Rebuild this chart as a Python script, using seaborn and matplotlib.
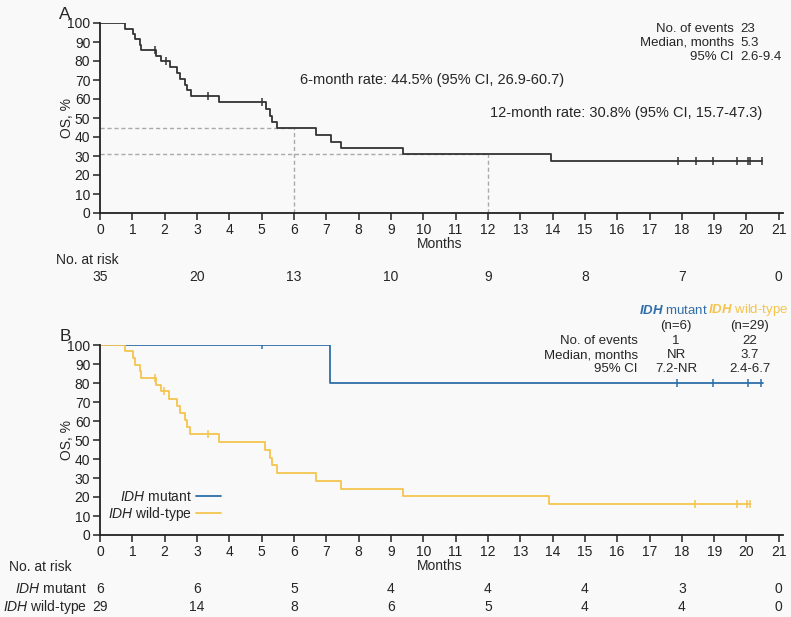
import numpy as np
import pandas as pd
import seaborn as sns
import matplotlib.pyplot as plt
import matplotlib.transforms as mtransforms

sns.set_style('ticks')
plt.rcParams['font.family'] = ['Liberation Sans', 'DejaVu Sans']
plt.rcParams['mathtext.fontset'] = 'custom'
plt.rcParams['mathtext.rm'] = 'Liberation Sans'
plt.rcParams['mathtext.it'] = 'Liberation Sans:italic'
plt.rcParams['mathtext.bf'] = 'Liberation Sans:bold'
plt.rcParams['mathtext.bfit'] = 'Liberation Sans:italic:bold'

# panel A - all patients
months_all = [0, 0.77, 1.03, 1.08, 1.24, 1.27, 1.72, 1.90, 2.17, 2.39, 2.47, 2.63, 2.70, 2.81,
              3.69, 5.13, 5.25, 5.31, 5.48, 6.68, 7.16, 7.47, 9.38, 13.94]
os_all = [100, 97.1, 94.3, 91.4, 88.6, 85.7, 82.8, 79.8, 76.8, 73.7, 70.7, 67.6, 64.5, 61.5,
          58.2, 54.6, 51.3, 47.9, 44.5, 41.0, 37.6, 34.2, 30.8, 27.4]
censor_all = [1.70, 2.04, 3.35, 5.0, 17.89, 18.43, 18.97, 19.71, 20.05, 20.10, 20.49]
end_all = 20.49
rate6, rate12 = 44.5, 30.8

# panel B - IDH mutant
months_mut = [0, 7.13]
os_mut = [100, 80]
censor_mut = [5.0, 17.85, 18.95, 20.05, 20.45]
end_mut = 20.5

# panel B - IDH wild-type
months_wt = [0, 0.77, 1.03, 1.08, 1.24, 1.27, 1.72, 1.90, 2.14, 2.39, 2.47, 2.63, 2.70, 2.78,
             3.69, 5.10, 5.26, 5.31, 5.48, 6.68, 7.47, 9.36, 13.9]
os_wt = [100, 96.6, 93.1, 89.7, 86.2, 82.8, 79.2, 75.6, 71.8, 68.0, 64.2, 60.5, 56.7, 52.9,
         48.8, 44.8, 40.7, 36.6, 32.6, 28.5, 24.4, 20.3, 16.3]
censor_wt = [1.70, 1.97, 3.35, 18.4, 19.7, 20.02, 20.1]
end_wt = 20.12

risk_months = [0, 3, 6, 9, 12, 15, 18, 21]
risk_all = [35, 20, 13, 10, 9, 8, 7, 0]
risk_mut = [6, 6, 5, 4, 4, 4, 3, 0]
risk_wt = [29, 14, 8, 6, 5, 4, 4, 0]

bg = '#f9f9f9'
black = '#333333'
blue = '#2f6ea8'
yellow = '#f4c44e'
fs = 10


def km(ax, t, s, cens, end, color, label=None):
    df = pd.DataFrame({'Months': list(t) + [end], 'OS': list(s) + [s[-1]]})
    sns.lineplot(data=df, x='Months', y='OS', drawstyle='steps-post', color=color,
                 lw=1.3, estimator=None, ax=ax, label=label)
    idx = np.searchsorted(t, cens, side='right') - 1
    ax.plot(cens, np.array(s)[idx], ls='none', marker='|', ms=6, mew=1.1, color=color)


def style(ax):
    ax.set_facecolor(bg)
    ax.set_xlim(0, 21.13)
    ax.set_ylim(0, 100)
    ax.set_xticks(range(0, 22))
    ax.set_yticks(range(0, 101, 10))
    ax.tick_params(direction='out', length=5, width=1.1, labelsize=fs, pad=2, colors='#222222')
    for sp in ['top', 'right']:
        ax.spines[sp].set_visible(False)
    for sp in ['left', 'bottom']:
        ax.spines[sp].set_linewidth(1.3)
        ax.spines[sp].set_color('#222222')
    ax.set_xlabel('')
    ax.set_ylabel('OS, %', fontsize=fs)
    ax.yaxis.set_label_coords(-0.038, 0.5)


fig = plt.figure(figsize=(7.91, 6.17), dpi=100)
fig.patch.set_facecolor(bg)
axA = fig.add_axes([100 / 791, 1 - 213 / 617, 683 / 791, 190 / 617])
axB = fig.add_axes([100 / 791, 1 - 535 / 617, 683 / 791, 190 / 617])

# ---- panel A ----
axA.plot([0, 6], [rate6, rate6], color='#aaaaaa', lw=1, ls=(0, (3, 2)))
axA.plot([6, 6], [0, rate6], color='#aaaaaa', lw=1, ls=(0, (3, 2)))
axA.plot([0, 12], [rate12, rate12], color='#aaaaaa', lw=1, ls=(0, (3, 2)))
axA.plot([12, 12], [0, rate12], color='#aaaaaa', lw=1, ls=(0, (3, 2)))
km(axA, months_all, os_all, censor_all, end_all, black)
style(axA)

axA.text(6.19, 70, '6-month rate: 44.5% (95% CI, 26.9-60.7)', fontsize=10.5, va='center')
axA.text(12.06, 52.6, '12-month rate: 30.8% (95% CI, 15.7-47.3)', fontsize=10.5, va='center')
for y, lab, val in zip([96.8, 89.5, 82.1], ['No. of events', 'Median, months', '95% CI'],
                       ['23', '5.3', '2.6-9.4']):
    axA.text(19.61, y, lab, ha='right', va='center', fontsize=9.5)
    axA.text(19.8, y, val, ha='left', va='center', fontsize=9.5)

trA = mtransforms.blended_transform_factory(axA.transData, axA.transAxes)
axA.text(10.5, -0.165, 'Months', transform=trA, ha='center', va='center', fontsize=fs)
axA.text(-0.40, -0.245, 'No. at risk', transform=trA, ha='center', va='center', fontsize=fs)
for m, n in zip(risk_months, risk_all):
    axA.text(m, -0.335, str(n), transform=trA, ha='center', va='center', fontsize=fs)
axA.text(-1.08, 1.045, 'A', transform=trA, ha='center', va='center', fontsize=12.5)

# ---- panel B ----
km(axB, months_mut, os_mut, censor_mut, end_mut, blue, label=r'$\mathit{IDH}$ mutant')
km(axB, months_wt, os_wt, censor_wt, end_wt, yellow, label=r'$\mathit{IDH}$ wild-type')
style(axB)
axB.legend(loc='lower left', bbox_to_anchor=(0.0, 0.02), frameon=False, markerfirst=False,
           handlelength=1.8, handletextpad=0.3, labelspacing=0.05, fontsize=fs,
           borderaxespad=0.2)

axB.text(17.75, 118.4, r'$\mathbfit{IDH}$ mutant', color=blue, ha='center', va='center', fontsize=9.5)
axB.text(20.05, 118.4, r'$\mathbfit{IDH}$ wild-type', color=yellow, ha='center', va='center', fontsize=9.5)
axB.text(17.82, 109.8, '(n=6)', ha='center', va='center', fontsize=9.5)
axB.text(20.1, 109.8, '(n=29)', ha='center', va='center', fontsize=9.5)
for y, lab, v1, v2 in zip([102.2, 94.7, 87.2], ['No. of events', 'Median, months', '95% CI'],
                          ['1', 'NR', '7.2-NR'], ['22', '3.7', '2.4-6.7']):
    axB.text(16.64, y, lab, ha='right', va='center', fontsize=9.5)
    axB.text(17.82, y, v1, ha='center', va='center', fontsize=9.5)
    axB.text(20.1, y, v2, ha='center', va='center', fontsize=9.5)

trB = mtransforms.blended_transform_factory(axB.transData, axB.transAxes)
axB.text(10.5, -0.165, 'Months', transform=trB, ha='center', va='center', fontsize=fs)
axB.text(-2.8, -0.17, 'No. at risk', transform=trB, ha='left', va='center', fontsize=fs)
axB.text(-0.4, -0.284, r'$\mathit{IDH}$ mutant', transform=trB, ha='right', va='center', fontsize=fs)
axB.text(-0.4, -0.379, r'$\mathit{IDH}$ wild-type', transform=trB, ha='right', va='center', fontsize=fs)
for m, n1, n2 in zip(risk_months, risk_mut, risk_wt):
    axB.text(m, -0.284, str(n1), transform=trB, ha='center', va='center', fontsize=fs)
    axB.text(m, -0.379, str(n2), transform=trB, ha='center', va='center', fontsize=fs)
axB.text(-1.08, 1.045, 'B', transform=trB, ha='center', va='center', fontsize=12.5)

fig.savefig('out.png', dpi=100, facecolor=bg)
